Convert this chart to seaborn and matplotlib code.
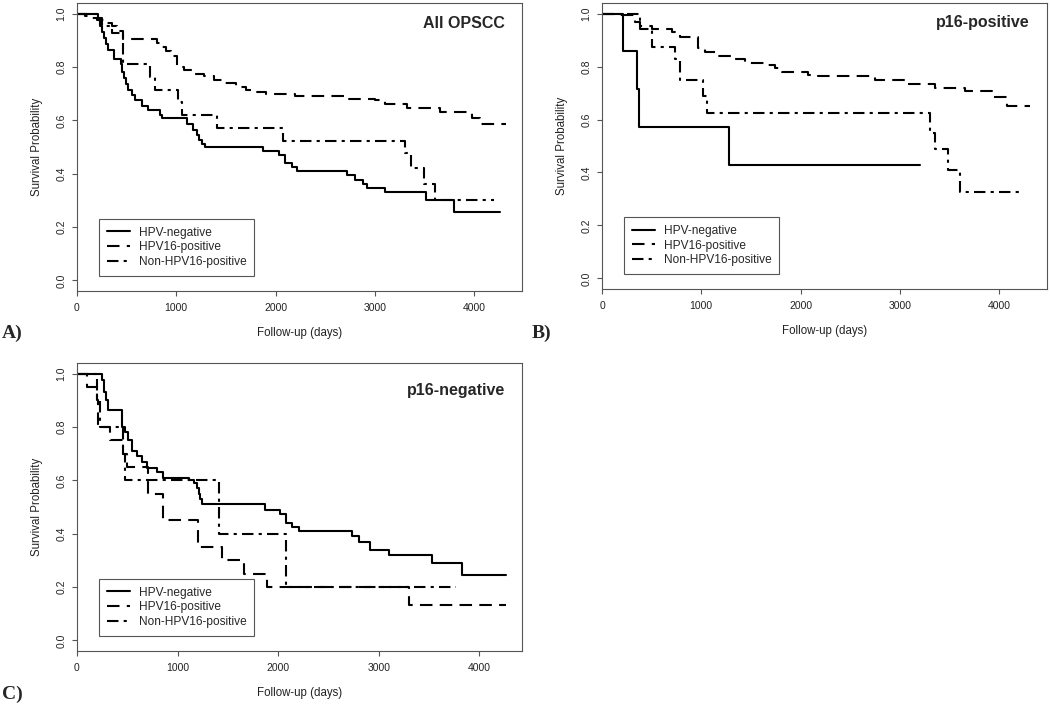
import matplotlib
matplotlib.use('Agg')
import matplotlib.pyplot as plt
import pandas as pd
import seaborn as sns

groups = ['HPV-negative', 'HPV16-positive', 'Non-HPV16-positive']
xTicks = [0, 1000, 2000, 3000, 4000]
yTicks = [0.0, 0.2, 0.4, 0.6, 0.8, 1.0]

# A) All OPSCC
allNegDays = [0, 215, 235, 255, 275, 295, 315, 376, 440, 455, 470, 490, 510, 551, 585, 652, 719, 837, 853, 1105,
              1173, 1206, 1230, 1257, 1290, 1878, 2030, 2097, 2164, 2214, 2718, 2802, 2886, 2920, 3105, 3518, 3800, 4257]
allNegSurv = [1.0, 0.977, 0.955, 0.932, 0.909, 0.886, 0.864, 0.83, 0.81, 0.78, 0.757, 0.735, 0.712, 0.695, 0.675,
              0.652, 0.638, 0.62, 0.607, 0.588, 0.565, 0.545, 0.527, 0.513, 0.50, 0.484, 0.47, 0.44, 0.425, 0.41,
              0.395, 0.378, 0.36, 0.348, 0.33, 0.30, 0.256, 0.256]
all16Days = [0, 80, 150, 250, 300, 350, 400, 467, 803, 850, 900, 950, 1005, 1080, 1180, 1280, 1380, 1480, 1600, 1700,
             1800, 1900, 2200, 2700, 3000, 3100, 3320, 3660, 3980, 4060, 4320]
all16Surv = [1.0, 0.99, 0.985, 0.975, 0.965, 0.955, 0.935, 0.905, 0.89, 0.875, 0.86, 0.84, 0.80, 0.79, 0.775, 0.765,
             0.75, 0.74, 0.725, 0.715, 0.705, 0.70, 0.69, 0.68, 0.675, 0.66, 0.645, 0.63, 0.61, 0.585, 0.585]
allOtherDays = [0, 200, 250, 350, 467, 736, 786, 1021, 1060, 1408, 2080, 3306, 3360, 3491, 3609, 4197]
allOtherSurv = [1.0, 0.976, 0.952, 0.929, 0.81, 0.762, 0.714, 0.667, 0.619, 0.571, 0.524, 0.476, 0.42, 0.36, 0.30, 0.30]

# B) p16-positive
posNegDays = [0, 215, 356, 376, 1284, 3206]
posNegSurv = [1.0, 0.857, 0.714, 0.571, 0.429, 0.429]
pos16Days = [0, 130, 333, 383, 501, 702, 786, 971, 1038, 1173, 1307, 1442, 1643, 1744, 1811, 2080, 2181, 2752, 3050,
             3357, 3659, 3928, 4079, 4315]
pos16Surv = [1.0, 0.994, 0.97, 0.955, 0.94, 0.93, 0.91, 0.87, 0.855, 0.84, 0.83, 0.815, 0.805, 0.795, 0.78, 0.77,
             0.765, 0.75, 0.735, 0.72, 0.708, 0.685, 0.65, 0.65]
posOtherDays = [0, 383, 501, 736, 786, 1021, 1055, 3306, 3350, 3485, 3609, 4197]
posOtherSurv = [1.0, 0.94, 0.875, 0.83, 0.75, 0.69, 0.625, 0.55, 0.49, 0.41, 0.325, 0.325]

# C) p16-negative
negNegDays = [0, 246, 270, 290, 312, 445, 478, 511, 544, 594, 644, 694, 793, 860, 1109, 1159, 1192, 1210, 1225, 1240,
              1872, 2022, 2081, 2138, 2204, 2735, 2802, 2918, 3100, 3532, 3831, 4262]
negNegSurv = [1.0, 0.977, 0.932, 0.90, 0.864, 0.80, 0.78, 0.75, 0.71, 0.69, 0.67, 0.645, 0.63, 0.61, 0.60, 0.59,
              0.57, 0.55, 0.53, 0.51, 0.49, 0.475, 0.44, 0.425, 0.41, 0.39, 0.37, 0.34, 0.32, 0.29, 0.245, 0.245]
neg16Days = [0, 96, 200, 212, 329, 461, 500, 710, 860, 1208, 1441, 1656, 1889, 3300, 4262]
neg16Surv = [1.0, 0.95, 0.90, 0.80, 0.75, 0.70, 0.65, 0.55, 0.45, 0.35, 0.30, 0.25, 0.20, 0.133, 0.133]
negOtherDays = [0, 200, 225, 462, 478, 1408, 2081, 3764]
negOtherSurv = [1.0, 0.90, 0.80, 0.70, 0.60, 0.40, 0.20, 0.20]

dashList = [None, (6, 3.5), (5.5, 2.5, 1.5, 2.5)]
edge = '#555555'


def drawPanel(ax, curves, title, titleY, xMax, letter, letterX, letterY):
    for (days, surv), name, dash in zip(curves, groups, dashList):
        df = pd.DataFrame({'days': days, 'surv': surv})
        sns.lineplot(data=df, x='days', y='surv', color='black', linewidth=1.5,
                     drawstyle='steps-post', estimator=None, ax=ax)
        line = ax.lines[-1]
        if dash:
            line.set_dashes(dash)
        line.set_label(name)
    ax.set_xlim(0, xMax)
    ax.set_ylim(-0.04, 1.04)
    ax.set_xticks(xTicks)
    ax.set_yticks(yTicks)
    ax.set_yticklabels(['%.1f' % v for v in yTicks])
    for lab in ax.get_yticklabels():
        lab.set_rotation(90)
        lab.set_va('center')
        lab.set_ha('right')
    for sp in ax.spines.values():
        sp.set_visible(True)
        sp.set_color(edge)
        sp.set_linewidth(0.8)
    ax.tick_params(direction='out', length=3.6, width=0.8, color=edge,
                   labelsize=7.5, labelcolor='#222222', bottom=True, left=True)
    ax.tick_params(axis='y', pad=4)
    ax.tick_params(axis='x', pad=5)
    ax.set_xlabel('Follow-up (days)', fontsize=8.3, color='#222222')
    ax.set_ylabel('Survival Probability', fontsize=8.3, color='#222222')
    ax.xaxis.set_label_coords(0.5, -0.146)
    ax.xaxis.label.set_va('center')
    ax.yaxis.set_label_coords(-0.09, 0.5)
    ax.yaxis.label.set_va('center')
    ax.text(1 - 17 / 445, titleY, title, transform=ax.transAxes, ha='right', va='baseline',
            fontsize=11.5, fontweight='bold')
    leg = ax.legend(handles=ax.lines[:3], labels=groups, loc='lower left',
                    bbox_to_anchor=(0.049, 0.052), borderaxespad=0, borderpad=0.65,
                    labelspacing=0.24, handlelength=2.0, handletextpad=0.7,
                    fontsize=8.55, fancybox=False, framealpha=1)
    leg.get_frame().set_edgecolor(edge)
    leg.get_frame().set_linewidth(0.8)
    fig.text(letterX, letterY, letter, fontfamily='Liberation Serif', fontweight='bold',
             fontsize=14, ha='left', va='center')


sns.set_style('ticks')
plt.rcParams['font.family'] = ['Liberation Sans', 'DejaVu Sans']

fig = plt.figure(figsize=(10.5, 7.05), dpi=100)
axA = fig.add_axes([77 / 1050, 1 - 291 / 705, 445 / 1050, 288 / 705])
axB = fig.add_axes([602 / 1050, 1 - 289 / 705, 445 / 1050, 286 / 705])
axC = fig.add_axes([77 / 1050, 1 - 651 / 705, 445 / 1050, 288 / 705])

drawPanel(axA, [(allNegDays, allNegSurv), (all16Days, all16Surv), (allOtherDays, allOtherSurv)],
          'All OPSCC', 0.914, 4483, 'A)', 2 / 1050, 1 - 333 / 705)
drawPanel(axB, [(posNegDays, posNegSurv), (pos16Days, pos16Surv), (posOtherDays, posOtherSurv)],
          'p16-positive', 0.916, 4483, 'B)', 532 / 1050, 1 - 333 / 705)
drawPanel(axC, [(negNegDays, negNegSurv), (neg16Days, neg16Surv), (negOtherDays, negOtherSurv)],
          'p16-negative', 0.89, 4425, 'C)', 2 / 1050, 1 - 694 / 705)

fig.savefig('out.png', dpi=100)
